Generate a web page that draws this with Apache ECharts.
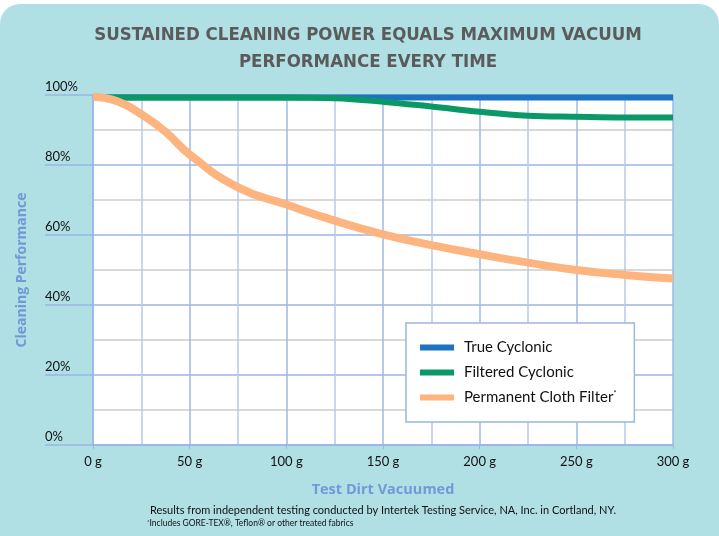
<!DOCTYPE html>
<html><head><meta charset="utf-8">
<script src="https://cdn.jsdelivr.net/npm/echarts@6/dist/echarts.min.js"></script>
<style>html,body{margin:0;padding:0;background:#fff;}#c{width:719px;height:536px;}</style>
</head><body><div id="c"></div>
<script>
const dirt = [0, 12.5, 25, 37.5, 50, 75, 100, 125, 150, 175, 200, 225, 250, 275, 300];
const trueCyclonic = [99.3, 99.3, 99.3, 99.3, 99.3, 99.3, 99.3, 99.3, 99.3, 99.3, 99.3, 99.3, 99.3, 99.3, 99.3];
const filteredCyclonic = [99.3, 99.3, 99.3, 99.3, 99.3, 99.3, 99.3, 99.1, 98.1, 96.7, 95.2, 94.1, 93.8, 93.6, 93.6];
const clothFilter = [99.5, 98.2, 94.5, 89.5, 83.0, 73.6, 68.7, 64.1, 60.2, 57.1, 54.5, 52.1, 50.0, 48.6, 47.6];
const seriesNames = ['True Cyclonic', 'Filtered Cyclonic', 'Permanent Cloth Filter'];
const titleLines = ['SUSTAINED CLEANING POWER EQUALS MAXIMUM VACUUM', 'PERFORMANCE EVERY TIME'];
const footer1 = 'Results from independent testing conducted by Intertek Testing Service, NA, Inc. in Cortland, NY.';
const footer2 = 'Includes GORE-TEX®, Teflon® or other treated fabrics';

const pair = arr => dirt.map((d, i) => [d, arr[i]]);
const blue = '#9bb5e5';
const font = 'Lato';

const chart = echarts.init(document.getElementById('c'));
chart.setOption({
  animation: false,
  graphic: [
    { type: 'rect', z: -10, shape: { x: 0, y: 4, width: 719, height: 560, r: 20 }, style: { fill: '#b0dfe4' } },
    { type: 'text', x: 383, y: 505, style: { text: footer1, font: '11px ' + font, fill: '#111', align: 'center' } },
    { type: 'text', x: 147, y: 519, style: { text: '{s|*}' + footer2, font: '8.5px ' + font, fill: '#111', rich: { s: { fontSize: 6, verticalAlign: 'top', fontFamily: font } } } }
  ],
  title: {
    text: titleLines.join('\n'),
    left: 363, top: 17, textAlign: 'center',
    textStyle: { fontFamily: 'DejaVu Sans Condensed', fontWeight: 'bold', fontSize: 18.5, color: '#5b5b5b', lineHeight: 27 }
  },
  legend: {
    orient: 'vertical', left: 406, top: 323,
    backgroundColor: '#fff', borderColor: blue, borderWidth: 1.5, borderRadius: 0,
    padding: [17, 18, 17, 14], itemGap: 10,
    icon: 'rect', itemWidth: 34, itemHeight: 6,
    data: seriesNames,
    formatter: n => n === 'Permanent Cloth Filter' ? n + '{s|*}' : n,
    textStyle: { fontFamily: font, fontSize: 15, color: '#111', padding: [0, 0, 0, 5],
      rich: { s: { fontSize: 7, verticalAlign: 'top', fontFamily: font, color: '#111' } } }
  },
  grid: { left: 93, right: 46, top: 95, bottom: 91, show: true, backgroundColor: '#fff', borderWidth: 0 },
  xAxis: [
    { type: 'value', min: 0, max: 300, interval: 25,
      name: 'Test Dirt Vacuumed', nameLocation: 'middle', nameGap: 37,
      nameTextStyle: { fontFamily: 'Open Sans', fontWeight: 'bold', fontSize: 14.5, color: '#6f9ad8' },
      axisLine: { show: true, lineStyle: { color: blue, width: 1.5 } },
      axisTick: { show: false }, axisLabel: { show: false },
      splitLine: { show: true, lineStyle: { color: ['#9db8e6', '#b8c9e4'], width: 1.5 } } },
    { type: 'value', min: 0, max: 300, interval: 50, position: 'bottom',
      axisLine: { show: false },
      axisTick: { show: true, length: 4, lineStyle: { color: blue } },
      axisLabel: { margin: 10, fontFamily: font, fontSize: 13, color: '#111', formatter: v => v + ' g' },
      splitLine: { show: false } }
  ],
  yAxis: [
    { type: 'value', min: 0, max: 100, interval: 10,
      name: 'Cleaning Performance', nameLocation: 'middle', nameGap: 64, nameRotate: 90,
      nameTextStyle: { fontFamily: 'Open Sans', fontWeight: 'bold', fontSize: 14, color: '#6f9ad8' },
      axisLine: { show: true, lineStyle: { color: blue, width: 1.5 } },
      axisTick: { show: false }, axisLabel: { show: false },
      splitLine: { show: true, lineStyle: { color: [blue, '#cccccc'], width: 1.5 } } },
    { type: 'value', min: 0, max: 100, interval: 20, position: 'left',
      axisLine: { show: false },
      axisTick: { show: true, length: 48, lineStyle: { color: blue, width: 1.5 } },
      axisLabel: { margin: 48, align: 'left', verticalAlign: 'bottom', padding: [0, 0, 2, 0],
        fontFamily: font, fontSize: 13, color: '#111', formatter: v => v + '%' },
      splitLine: { show: false } }
  ],
  series: [
    { name: seriesNames[0], type: 'line', data: pair(trueCyclonic), showSymbol: false, symbol: 'none',
      color: '#1c74c0', lineStyle: { color: '#1c74c0', width: 6 } },
    { name: seriesNames[1], type: 'line', data: pair(filteredCyclonic), showSymbol: false, symbol: 'none', smooth: 0.4,
      color: '#0a9966', lineStyle: { color: '#0a9966', width: 6 } },
    { name: seriesNames[2], type: 'line', data: pair(clothFilter), showSymbol: false, symbol: 'none', smooth: 0.5,
      color: '#fdb47f', lineStyle: { color: '#fdb47f', width: 8 } }
  ]
});
</script></body></html>
